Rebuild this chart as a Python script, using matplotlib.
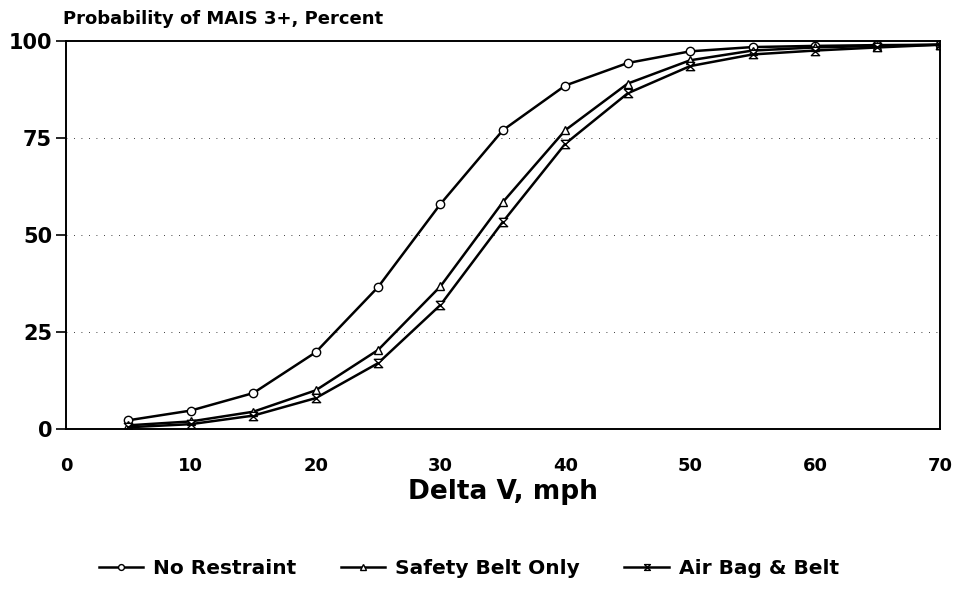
import matplotlib.pyplot as plt
from matplotlib.path import Path

# Data
delta_v = [5, 10, 15, 20, 25, 30, 35, 40, 45, 50, 55, 60, 65, 70]
no_restraint = [2.3, 4.8, 9.3, 19.8, 36.6, 58.0, 77.0, 88.5, 94.3, 97.3, 98.4, 98.7, 98.9, 99.0]
belt_only = [1.0, 2.0, 4.5, 10.0, 20.4, 36.8, 58.5, 77.0, 89.0, 95.0, 97.5, 98.3, 98.7, 99.0]
airbag_belt = [0.5, 1.3, 3.5, 8.0, 17.0, 32.0, 53.4, 73.5, 86.5, 93.5, 96.5, 97.5, 98.3, 99.0]
labels = ['No Restraint', 'Safety Belt Only', 'Air Bag & Belt']
xticks = [0, 10, 20, 30, 40, 50, 60, 70]
yticks = [0, 25, 50, 75, 100]

plt.rcParams['font.family'] = ['DejaVu Sans']
plt.rcParams['font.weight'] = 'bold'

# hourglass marker like the original
hourglass = Path([(-1, 1), (1, 1), (-1, -1), (1, -1), (-1, 1)],
                 [Path.MOVETO, Path.LINETO, Path.LINETO, Path.LINETO, Path.CLOSEPOLY])

fig = plt.figure(figsize=(9.57, 5.92), dpi=100)
ax = fig.add_axes([0.069, 0.275, 0.913, 0.656])

style = dict(color='black', lw=1.8, markersize=6, markerfacecolor='white',
             markeredgecolor='black', markeredgewidth=1.0)
ax.plot(delta_v, no_restraint, marker='o', label=labels[0], **style)
ax.plot(delta_v, belt_only, marker='^', label=labels[1], **style)
ax.plot(delta_v, airbag_belt, marker=hourglass, label=labels[2], **style)

ax.set_xlim(0, 70)
ax.set_ylim(0, 100)
ax.set_xticks(xticks)
ax.set_yticks(yticks)
ax.tick_params(axis='x', length=0, pad=20, labelsize=13)
ax.tick_params(axis='y', length=7, width=1.2, pad=3, labelsize=15)
for t in ax.get_xticklabels() + ax.get_yticklabels():
    t.set_fontweight('bold')
for s in ax.spines.values():
    s.set_linewidth(1.4)

for yv in [25, 50, 75]:
    ax.axhline(yv, color='black', lw=0.6, ls=(0, (1, 8)), zorder=0)

ax.set_xlabel('Delta V, mph', fontsize=19, fontweight='bold', labelpad=3)
fig.text(0.066, 0.968, 'Probability of MAIS 3+, Percent', fontsize=13,
         fontweight='bold', ha='left', va='center')

fig.legend(loc='center', bbox_to_anchor=(0.49, 0.04), ncol=3, frameon=False,
           handlelength=2.2, columnspacing=2.2, handletextpad=0.5,
           markerscale=0.7, prop={'weight': 'bold', 'size': 14.5})

fig.savefig('out.png', dpi=100)
